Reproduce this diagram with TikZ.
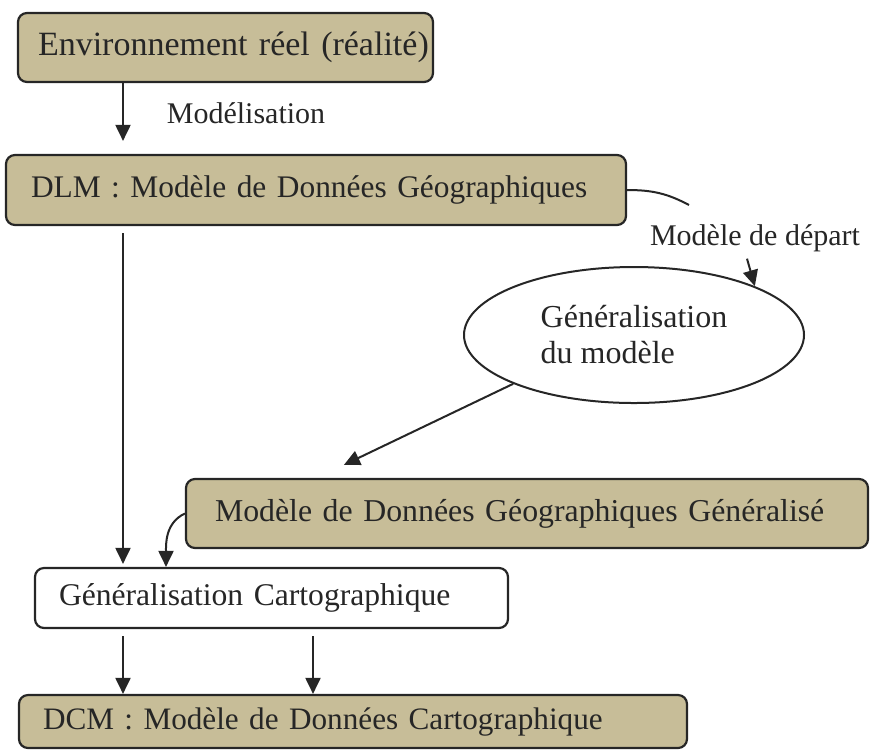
\documentclass[tikz,border=0pt]{standalone}
\usepackage{fontspec}
\setmainfont{Liberation Serif}
\usepackage{tikz}
\usetikzlibrary{positioning}
\usetikzlibrary{shapes.geometric}
\usetikzlibrary{arrows.meta}
\usepackage{xcolor}
\definecolor{boxtan}{RGB}{199,189,152}
\definecolor{inkgray}{RGB}{38,38,38}

\begin{document}
\begin{tikzpicture}[
    x=0.5pt, y=-0.5pt,
    model/.style={rectangle, draw=inkgray, line width=1.1pt, fill=boxtan, rounded corners=4.5pt, align=left, inner ysep=0pt, text=inkgray},
    process/.style={model, fill=white},
    idea/.style={ellipse, draw=inkgray, line width=1pt, minimum width=170pt, minimum height=68pt, inner sep=0pt, align=left, text=inkgray},
    tag/.style={text=inkgray, font=\fontsize{15}{18}\selectfont},
    arrow/.style={-{Triangle[length=8pt,width=7.5pt]}, line width=1pt, draw=inkgray}
]
    \useasboundingbox (0,0) rectangle (870,751);

    % Columns of the vertical arrows
    \coordinate (cola) at (123,0);
    \coordinate (colb) at (166,0);
    \coordinate (colc) at (313,0);

    % The models
    \node[model, inner xsep=10pt, text width=187.5pt, minimum height=34.5pt, font=\fontsize{17}{20}\selectfont] (env) at (225.5,47.5) {\mbox{Environnement réel (réalité)}};
    \node[model, inner xsep=12.5pt, text width=285pt, minimum height=35pt, font=\fontsize{15.7}{20}\selectfont] (dlm) at (316,190) {\mbox{DLM : Modèle de Données Géographiques}};
    \node[model, inner xsep=14.5pt, text width=312pt, minimum height=34.5pt, font=\fontsize{15.9}{20}\selectfont] (gendata) at (527,513.5) {\mbox{Modèle de Données Géographiques Généralisé}};
    \node[process, inner xsep=12pt, text width=212.5pt, minimum height=30pt, font=\fontsize{15.8}{19}\selectfont] (gencarto) at (271.5,598) {\mbox{Généralisation Cartographique}};
    \node[model, inner xsep=12pt, text width=310pt, minimum height=26.5pt, font=\fontsize{15.6}{19}\selectfont] (dcm) at (353,721.5) {\mbox{DCM : Modèle de Données Cartographique}};

    % Model generalisation
    \node[idea, font=\fontsize{16}{18}\selectfont] (genmod) at (634,335) {Généralisation\\du modèle};

    % Labels
    \node[tag] (modelisation) at (246,113) {Modélisation};
    \node[tag] (depart) at (755,238) {Modèle de départ};
    \coordinate (dlmtail) at (689,205);

    % Connections
    \draw[arrow, shorten >=6.5pt] (env.south -| cola) -- (dlm.north -| cola);
    \draw[arrow, shorten <=3.5pt, shorten >=1.5pt] (dlm.south -| cola) -- (gencarto.north -| cola);
    \draw[line width=1pt, draw=inkgray] (dlm.east) to[out=0, in=152] (dlmtail);
    \draw[arrow] ([xshift=-4pt]depart.south) -- (genmod.22);
    \draw[arrow] (genmod.202) -- ([shift={(79.5pt,6.5pt)}]gendata.north west);
    \draw[arrow] (gendata.west) to[out=205, in=90] (gencarto.north -| colb);
    \draw[arrow, shorten <=3.5pt] (gencarto.south -| cola) -- (dcm.north -| cola);
    \draw[arrow, shorten <=3.5pt] (gencarto.south -| colc) -- (dcm.north -| colc);
\end{tikzpicture}
\end{document}
